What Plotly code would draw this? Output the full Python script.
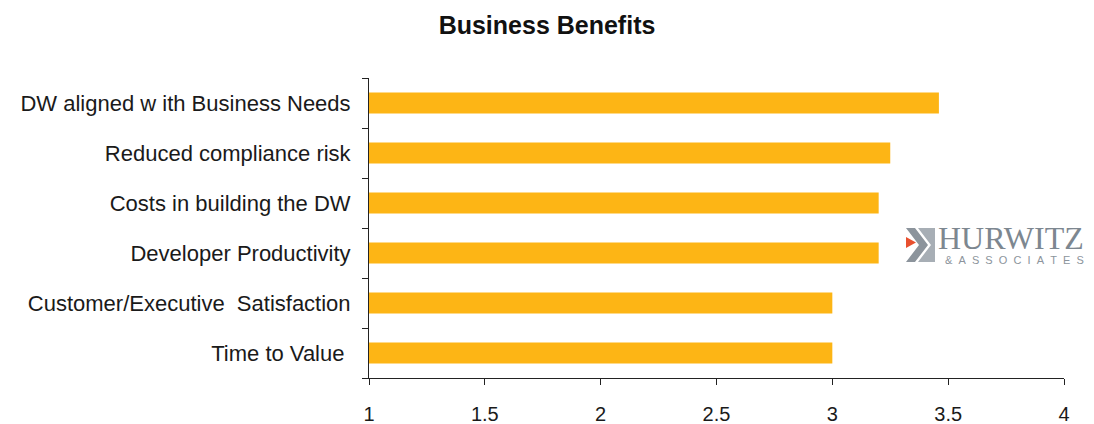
import plotly.graph_objects as go

categories = ["Time to Value ", "Customer/Executive  Satisfaction", "Developer Productivity",
              "Costs in building the DW", "Reduced compliance risk", "DW aligned w ith Business Needs"]
values = [3.0, 3.0, 3.2, 3.2, 3.25, 3.46]
x_ticks = [1, 1.5, 2, 2.5, 3, 3.5, 4]
x_labels = ["1", "1.5", "2", "2.5", "3", "3.5", "4"]

W, H = 1094, 424
L, R, T, B = 369, 30, 78, 46
pw, ph = W - L - R, H - T - B

def px(x):
    return (x - L) / pw

def py(y):
    return (H - B - y) / ph

fig = go.Figure(go.Bar(
    y=categories, x=[v - 1 for v in values], base=1, orientation="h",
    marker=dict(color="#FDB515", line=dict(width=0)), width=0.42,
))

fig.update_layout(
    width=W, height=H, margin=dict(l=L, r=R, t=T, b=B),
    paper_bgcolor="white", plot_bgcolor="white", showlegend=False,
    font=dict(family="Liberation Sans, Arial, sans-serif", color="#1a1a1a", size=16),
    title=dict(text="<b>Business Benefits</b>", x=0.5, xanchor="center", y=0.94, yanchor="middle",
               font=dict(size=25, color="#111")),
    xaxis=dict(range=[1, 4], tickvals=x_ticks, ticktext=x_labels, showgrid=False, zeroline=False,
               showline=True, linecolor="#222", linewidth=1, ticks="outside", ticklen=6, tickcolor="#222",
               tickfont=dict(size=20), ticklabelstandoff=12, automargin=False),
    yaxis=dict(showgrid=False, showline=True, linecolor="#222", linewidth=1, ticks="outside",
               ticklen=6, tickcolor="#222", tickson="boundaries", tickfont=dict(size=22),
               ticklabelstandoff=13, range=[-0.5, 5.5], automargin=False),
)

def path(pts):
    s = "M " + " L ".join(f"{px(a):.5f},{py(b):.5f}" for a, b in pts) + " Z"
    return s

gray = "#8c949c"
shapes = [
    dict(type="path", xref="paper", yref="paper", path=path([(906, 228), (915, 228), (928, 245), (915, 262), (906, 262), (919, 245)]),
         fillcolor=gray, line=dict(width=0)),
    dict(type="path", xref="paper", yref="paper", path=path([(918, 228), (935, 228), (935, 262), (918, 262), (931, 245)]),
         fillcolor="#a7aeb5", line=dict(width=0)),
    dict(type="path", xref="paper", yref="paper", path=path([(906, 237), (916, 242.5), (906, 248)]),
         fillcolor="#e8502f", line=dict(width=0)),
]
fig.update_layout(shapes=shapes)
fig.add_annotation(xref="paper", yref="paper", x=px(936), y=py(238), xanchor="left", yanchor="middle",
                   text="HURWITZ", showarrow=False,
                   font=dict(family="Liberation Serif, DejaVu Serif, serif", size=32, color="#7d8790"))
fig.add_annotation(xref="paper", yref="paper", x=px(943), y=py(260), xanchor="left", yanchor="middle",
                   text="&amp;&#160;&#160;A&#160;&#160;S&#160;&#160;S&#160;&#160;O&#160;&#160;C&#160;&#160;I&#160;&#160;A&#160;&#160;T&#160;&#160;E&#160;&#160;S",
                   showarrow=False,
                   font=dict(family="Liberation Sans, Arial, sans-serif", size=11, color="#8c949c"))

fig.write_html("out.html")
